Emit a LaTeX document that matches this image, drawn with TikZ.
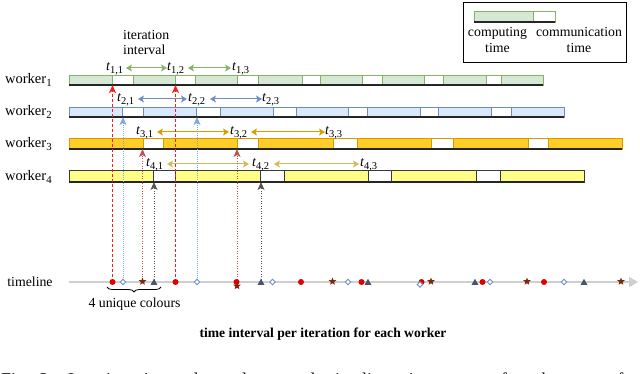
\documentclass[tikz,border=0pt]{standalone}
\usepackage{fontspec}
\setmainfont{Liberation Serif}
\usetikzlibrary{arrows.meta,shapes.geometric,decorations.pathreplacing}

\definecolor{gfill}{HTML}{D5E8D4}\definecolor{gline}{HTML}{82B366}
\definecolor{bfill}{HTML}{DAE8FC}\definecolor{bline}{HTML}{6C8EBF}
\definecolor{ofill}{HTML}{FFCD28}\definecolor{oline}{HTML}{D79B00}
\definecolor{yfill}{HTML}{FFFF88}\definecolor{yline}{HTML}{36393D}
\definecolor{w4arrow}{HTML}{D6B656}
\definecolor{redm}{HTML}{E00000}
\definecolor{redv}{HTML}{FF1A1A}
\definecolor{starc}{HTML}{7A2810}
\definecolor{tric}{HTML}{4A5670}
\definecolor{bluev}{HTML}{7EA6E0}
\definecolor{brownv}{HTML}{B85450}
\definecolor{grayv}{HTML}{555555}
\definecolor{tlgray}{HTML}{CFCFCF}

\newcommand\wsub[1]{\raisebox{-2.5pt}{\fontsize{10.8}{11}\selectfont #1}}
\newcommand\tlab[2]{{\itshape t}\raisebox{-2.6pt}{\fontsize{10.5}{11}\selectfont #1,#2}}
\newcommand\workerbar[6]{%
  \draw[#2, line width=0.8pt, fill=white] (69,#3) rectangle (#5,#4);
  \foreach \a/\b in {#6} {\draw[#2, line width=0.8pt, fill=#1] (\a,#3) rectangle (\b,#4);}
  \draw[black!85, line width=1.1pt] (69,#4) -- (#5,#4);
}

\begin{document}
\begin{tikzpicture}[x=1pt,y=-1pt,
  wlab/.style={inner sep=0pt, font=\fontsize{14.5}{16}\selectfont},
  txt/.style={inner sep=0pt, font=\fontsize{13.8}{16}\selectfont},
  tl/.style={inner sep=0pt, font=\fontsize{14}{16}\selectfont},
  darr/.style={line width=1pt, {Stealth[length=6pt,width=7pt,inset=1.5pt]}-{Stealth[length=6pt,width=7pt,inset=1.5pt]}},
  vtip/.style={-{Stealth[length=8pt,width=7pt,inset=2pt]}},
  vred/.style={vtip, redv, line width=1.4pt, dash pattern=on 3pt off 2pt},
  vblue/.style={vtip, bluev, line width=1pt, dash pattern=on 1pt off 1pt},
  vbrown/.style={vtip, brownv, line width=0.9pt, dash pattern=on 1pt off 1.5pt},
  vgray/.style={vtip, grayv, line width=0.9pt, dash pattern=on 1pt off 1.5pt},
  mcirc/.style={circle, fill=redm, inner sep=0pt, minimum size=6pt},
  mdiam/.style={diamond, aspect=1, draw=bline, fill=white, line width=0.9pt, inner sep=0pt, minimum size=6pt},
  mstar/.style={star, star points=5, star point ratio=2.3, fill=starc, inner sep=0pt, minimum size=8pt},
  mtri/.style={regular polygon, regular polygon sides=3, fill=tric, inner sep=0pt, minimum size=8pt}]
\useasboundingbox (0,0) rectangle (640,374);
\clip (0,0) rectangle (640,374);

% legend
\draw[black, line width=0.9pt] (463,2) rectangle (626,62);
\draw[gline, line width=0.8pt, fill=gfill] (474,11) rectangle (533,22);
\draw[gline, line width=0.8pt, fill=white] (533,11) rectangle (555,22);
\draw[black!85, line width=1.1pt] (474,22) -- (555,22);
\node[txt, anchor=base] (lc1) at (497.5,37) {computing};
\node[txt, anchor=base] (lc2) at (497.5,53) {time};
\node[txt, anchor=base] (lm1) at (579,37) {communication};
\node[txt, anchor=base] (lm2) at (579,53) {time};

% iteration interval label
\node[txt, anchor=base west] (it1) at (123,40) {iteration};
\node[txt, anchor=base west] (it2) at (123,55) {interval};

% worker labels
\node[wlab, anchor=base west] (w1) at (5,84) {worker\wsub{1}};
\node[wlab, anchor=base west] (w2) at (5,116) {worker\wsub{2}};
\node[wlab, anchor=base west] (w3) at (5,148) {worker\wsub{3}};
\node[wlab, anchor=base west] (w4) at (5,181) {worker\wsub{4}};

% bars
\workerbar{gfill}{gline}{75}{85}{543}{69/112,133/175,195/237,258/302,320/362,382/424,443/486,501/543}
\workerbar{bfill}{bline}{107}{117}{564}{69/122,143/196,220/273,296/348,367/420,438/491,511/564}
\workerbar{ofill}{oline}{138}{149}{622}{69/143,163/237,258/333,357/431,453/528,548/622}
\workerbar{yfill}{yline}{170}{182}{584}{69/153,175/260,284/368,391/476,500/584}

% t labels and iteration arrows
\node[tl, anchor=base west] (t11) at (106,71) {\tlab{1}{1}};
\node[tl, anchor=base west] (t12) at (167,71) {\tlab{1}{2}};
\node[tl, anchor=base west] (t13) at (232,71) {\tlab{1}{3}};
\draw[darr, gline] (126,68) -- (167,68);
\draw[darr, gline] (188,68) -- (231,68);

\node[tl, anchor=base west] (t21) at (117,102) {\tlab{2}{1}};
\node[tl, anchor=base west] (t22) at (188,102) {\tlab{2}{2}};
\node[tl, anchor=base west] (t23) at (262,102) {\tlab{2}{3}};
\draw[darr, bline] (138,99) -- (187,99);
\draw[darr, bline] (210,99) -- (262,99);

\node[tl, anchor=base west] (t31) at (136,134.5) {\tlab{3}{1}};
\node[tl, anchor=base west] (t32) at (230,134.5) {\tlab{3}{2}};
\node[tl, anchor=base west] (t33) at (325,134.5) {\tlab{3}{3}};
\draw[darr, oline] (157,132) -- (229,132);
\draw[darr, oline] (251,132) -- (325,132);

\node[tl, anchor=base west] (t41) at (146,166.5) {\tlab{4}{1}};
\node[tl, anchor=base west] (t42) at (252,166.5) {\tlab{4}{2}};
\node[tl, anchor=base west] (t43) at (360,166.5) {\tlab{4}{3}};
\draw[darr, w4arrow] (167,164) -- (249,164);
\draw[darr, w4arrow] (274,164) -- (359,164);

% bar bottoms
\coordinate (b1) at (0,85);
\coordinate (b2) at (0,117);
\coordinate (b3) at (0,149);
\coordinate (b4) at (0,182);

% timeline
\node[txt, anchor=base] (tln) at (30,286) {timeline};
\coordinate (tl0) at (69,282);
\coordinate (tl1) at (638,282);
\draw[tlgray, line width=1.6pt, -{Triangle[length=9pt,width=10pt]}] (tl0) -- (tl1);

% marker positions
\coordinate (c1) at (112.5,282);
\coordinate (c2) at (175.5,282);
\coordinate (d1) at (123,282);
\coordinate (d2) at (197,282);
\coordinate (s1) at (142.5,282);
\coordinate (s2) at (237,282);
\coordinate (g1) at (154,282);
\coordinate (g2) at (261,282);

% vertical arrows
\draw[vred] (c1) -- (c1 |- b1);
\draw[vred] (c2) -- (c2 |- b1);
\draw[vblue] (d1) -- (d1 |- b2);
\draw[vblue] (d2) -- (d2 |- b2);
\draw[vbrown] (s1) -- (s1 |- b3);
\draw[vbrown] (s2) -- (s2 |- b3);
\draw[vgray] (g1) -- (g1 |- b4);
\draw[vgray] (g2) -- (g2 |- b4);

% markers
\foreach \x in {112.5,175.5,236.5,301,361.5,421.5,482.5,544} \node[mcirc] at (\x,282) {};
\foreach \x/\y in {123/282,197/282,272.5/282,348/282,420/284.5,490/282,564/282} \node[mdiam] at (\x,\y) {};
\foreach \x/\y in {142.5/281.5,237/286,332.5/281.5,431/281.5,527/281.5,621/281.5} \node[mstar] at (\x,\y) {};
\foreach \x in {154,261,368,475,584} \node[mtri] at (\x,282.8) {};

% brace
\draw[decorate, decoration={brace, mirror, amplitude=5pt}, line width=0.8pt] (107,287) -- (161,287);
\node[txt, anchor=base] (uc) at (134.5,307) {4 unique colours};

\node[inner sep=0pt, anchor=base, font=\bfseries\fontsize{13.6}{16}\selectfont] (cap) at (323,337.5) {time interval per iteration for each worker};

% caption line, cut off by the lower edge as in the reference
\node[inner sep=0pt, anchor=base west, font=\fontsize{18}{20}\selectfont] (fig) at (1,385)
  {\hbox to 622pt{Fig.\hskip 10pt 2.\hfill Iteration\hfill intervals\hfill and\hfill merged\hfill timeline\hfill timestamps\hfill for\hfill the\hfill set\hfill of}};
\end{tikzpicture}
\end{document}
